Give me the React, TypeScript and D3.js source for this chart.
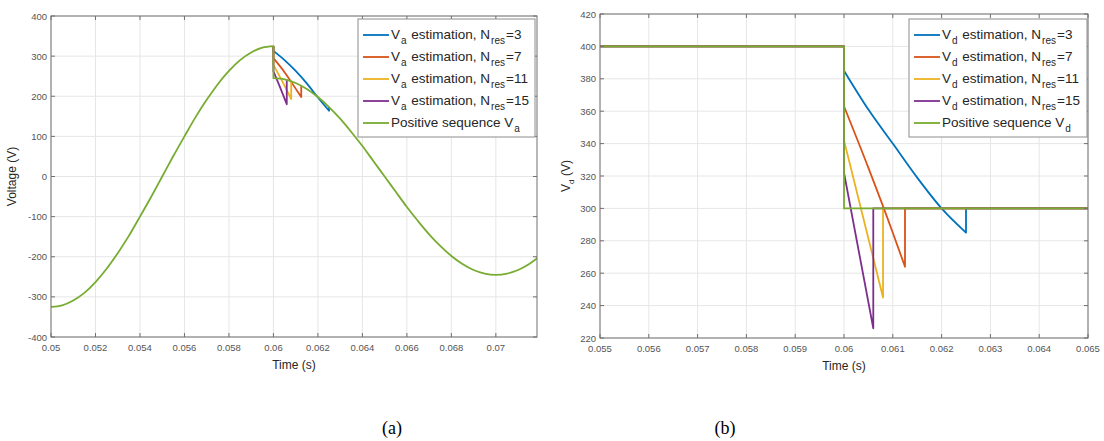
import React from "react";
import * as d3 from "d3";

// ---------- DATA ----------
const seriesColors = ["#0072BD", "#D95319", "#EDB120", "#7E2F8E", "#77AC30"];
const nResValues = ["3", "7", "11", "15"];

// (a) Positive sequence Va, before and after the sag at t = 0.06 s
const timePre = [0.05, 0.0505, 0.051, 0.0515, 0.052, 0.0525, 0.053, 0.0535, 0.054, 0.0545, 0.055, 0.0555, 0.056, 0.0565, 0.057, 0.0575, 0.058, 0.0585, 0.059, 0.0595, 0.06];
const vaPre = [-325, -321, -309, -290, -263, -230, -191, -148, -100, -51, 0, 51, 100, 148, 191, 230, 263, 290, 309, 321, 325];
const timePost = [0.06, 0.0605, 0.061, 0.0615, 0.062, 0.0625, 0.063, 0.0635, 0.064, 0.0645, 0.065, 0.0655, 0.066, 0.0665, 0.067, 0.0675, 0.068, 0.0685, 0.069, 0.0695, 0.07, 0.0705, 0.071, 0.0715, 0.072];
const vaPost = [245, 242, 233, 218, 198, 173, 144, 111, 76, 38, 0, -38, -76, -111, -144, -173, -198, -218, -233, -242, -245, -242, -233, -218, -198];

// (a) Va estimations
const estA3T = [0.06, 0.06, 0.0605, 0.061, 0.0615, 0.062, 0.0625, 0.0625];
const estA3V = [325, 313, 290, 263, 232, 197, 164, 173];
const estA7T = [0.06, 0.06, 0.0605, 0.061, 0.06125, 0.06125];
const estA7V = [325, 295, 260, 219, 198, 226];
const estA11T = [0.06, 0.06, 0.0604, 0.0608, 0.0608];
const estA11V = [325, 278, 237, 193, 237];
const estA15T = [0.06, 0.06, 0.0603, 0.0606, 0.0606];
const estA15V = [325, 262, 222, 180, 241];

// (b) Vd estimations
const estD3T = [0.055, 0.06, 0.06, 0.0605, 0.061, 0.0615, 0.062, 0.0625, 0.0625, 0.065];
const estD3V = [400, 400, 385, 361, 340, 319, 300, 285, 300, 300];
const estD7T = [0.055, 0.06, 0.06, 0.0605, 0.061, 0.06125, 0.06125, 0.065];
const estD7V = [400, 400, 363, 325, 285, 264, 300, 300];
const estD11T = [0.055, 0.06, 0.06, 0.0608, 0.0608, 0.065];
const estD11V = [400, 400, 342, 245, 300, 300];
const estD15T = [0.055, 0.06, 0.06, 0.0606, 0.0606, 0.065];
const estD15V = [400, 400, 322, 226, 300, 300];
const posDT = [0.055, 0.06, 0.06, 0.065];
const posDV = [400, 400, 300, 300];

// ticks
const xTicksA = [0.05, 0.052, 0.054, 0.056, 0.058, 0.06, 0.062, 0.064, 0.066, 0.068, 0.07];
const yTicksA = [-400, -300, -200, -100, 0, 100, 200, 300, 400];
const xTicksB = [0.055, 0.056, 0.057, 0.058, 0.059, 0.06, 0.061, 0.062, 0.063, 0.064, 0.065];
const yTicksB = [220, 240, 260, 280, 300, 320, 340, 360, 380, 400, 420];

const FONT = "'Liberation Sans', Arial, Helvetica, sans-serif";

type Pt = [number, number];
const zip = (t: number[], v: number[]): Pt[] => t.map((x, i) => [x, v[i]]);

// Smooth each run of strictly increasing x, join runs with straight (vertical) segments
function smoothPath(pts: Pt[], xs: any, ys: any): string {
  const gen = d3.line<Pt>().x((d) => xs(d[0])).y((d) => ys(d[1])).curve(d3.curveMonotoneX);
  const runs: Pt[][] = [];
  let cur: Pt[] = [];
  pts.forEach((p) => {
    if (cur.length && p[0] <= cur[cur.length - 1][0]) {
      runs.push(cur);
      cur = [];
    }
    cur.push(p);
  });
  if (cur.length) runs.push(cur);
  return runs
    .map((r, i) => {
      const d = r.length > 1 ? gen(r) || "" : `M${xs(r[0][0])},${ys(r[0][1])}`;
      return i === 0 ? d : d.replace(/^M/, "L");
    })
    .join("");
}

function Legend({ x, y, w, h, sym }: { x: number; y: number; w: number; h: number; sym: string }) {
  const rowH = 22;
  return (
    <g>
      <rect x={x} y={y} width={w} height={h} fill="#fff" stroke="#8c8c8c" strokeWidth={1} />
      {seriesColors.map((c, i) => {
        const cy = y + 16 + i * rowH;
        return (
          <g key={i}>
            <line x1={x + 5} x2={x + 31} y1={cy} y2={cy} stroke={c} strokeWidth={1.8} />
            {i < 4 ? (
              <text x={x + 33} y={cy + 4} fontSize={13.5} fontFamily={FONT} fill="#262626">
                <tspan>V</tspan>
                <tspan dy={5} dx={1} fontSize={10}>{sym}</tspan>
                <tspan dy={-5} dx={1}> estimation, N</tspan>
                <tspan dy={5} dx={1} fontSize={10}>res</tspan>
                <tspan dy={-5} dx={1}>={nResValues[i]}</tspan>
              </text>
            ) : (
              <text x={x + 33} y={cy + 4} fontSize={13.5} fontFamily={FONT} fill="#262626">
                <tspan>Positive sequence V</tspan>
                <tspan dy={5} dx={1} fontSize={10}>{sym}</tspan>
              </text>
            )}
          </g>
        );
      })}
    </g>
  );
}

function Grid({ x0, x1, y0, y1, xs, ys, xTicks, yTicks }: any) {
  return (
    <g>
      {xTicks.map((t: number, i: number) => (
        <line key={"gx" + i} x1={xs(t)} x2={xs(t)} y1={y0} y2={y1} stroke="#e6e6e6" strokeWidth={1} />
      ))}
      {yTicks.map((t: number, i: number) => (
        <line key={"gy" + i} x1={x0} x2={x1} y1={ys(t)} y2={ys(t)} stroke="#e6e6e6" strokeWidth={1} />
      ))}
    </g>
  );
}

function AxesFront({ x0, x1, y0, y1, xs, ys, xTicks, yTicks }: any) {
  const tl = 4;
  const fmt = (d: number) => String(+d.toFixed(3));
  return (
    <g>
      <rect x={x0} y={y0} width={x1 - x0} height={y1 - y0} fill="none" stroke="#707070" strokeWidth={1} />
      {xTicks.map((t: number, i: number) => (
        <g key={"tx" + i}>
          <line x1={xs(t)} x2={xs(t)} y1={y1} y2={y1 - tl} stroke="#707070" />
          <line x1={xs(t)} x2={xs(t)} y1={y0} y2={y0 + tl} stroke="#707070" />
          <text x={xs(t)} y={y1 + 14} textAnchor="middle" fontSize={9.5} fontFamily={FONT} fill="#555">
            {fmt(t)}
          </text>
        </g>
      ))}
      {yTicks.map((t: number, i: number) => (
        <g key={"ty" + i}>
          <line x1={x0} x2={x0 + tl} y1={ys(t)} y2={ys(t)} stroke="#707070" />
          <line x1={x1} x2={x1 - tl} y1={ys(t)} y2={ys(t)} stroke="#707070" />
          <text x={x0 - 4} y={ys(t) + 3.5} textAnchor="end" fontSize={9.5} fontFamily={FONT} fill="#555">
            {fmt(t)}
          </text>
        </g>
      ))}
      <text x={(x0 + x1) / 2} y={y1 + 32} textAnchor="middle" fontSize={12} fontFamily={FONT} fill="#262626">
        Time (s)
      </text>
    </g>
  );
}

export default function App() {
  // ---- panel (a)
  const A = { x0: 51, x1: 537, y0: 16, y1: 337 };
  const xsA = d3.scaleLinear().domain([0.05, 0.07185]).range([A.x0, A.x1]);
  const ysA = d3.scaleLinear().domain([-400, 400]).range([A.y1, A.y0]);
  const posAPath = smoothPath([...zip(timePre, vaPre), ...zip(timePost, vaPost)], xsA, ysA);
  const estA = [zip(estA3T, estA3V), zip(estA7T, estA7V), zip(estA11T, estA11V), zip(estA15T, estA15V)];

  // ---- panel (b)
  const B = { x0: 600, x1: 1088, y0: 14, y1: 338 };
  const xsB = d3.scaleLinear().domain([0.055, 0.065]).range([B.x0, B.x1]);
  const ysB = d3.scaleLinear().domain([220, 420]).range([B.y1, B.y0]);
  const estD = [zip(estD3T, estD3V), zip(estD7T, estD7V), zip(estD11T, estD11V), zip(estD15T, estD15V)];

  return (
    <div style={{ position: "absolute", left: 0, top: 0 }}>
      <svg width={1104} height={441} style={{ display: "block", background: "#fff" }}>
        <defs>
          <clipPath id="clipA">
            <rect x={A.x0} y={A.y0} width={A.x1 - A.x0} height={A.y1 - A.y0} />
          </clipPath>
          <clipPath id="clipB">
            <rect x={B.x0} y={B.y0} width={B.x1 - B.x0} height={B.y1 - B.y0} />
          </clipPath>
        </defs>

        {/* Panel (a) */}
        <Grid {...A} xs={xsA} ys={ysA} xTicks={xTicksA} yTicks={yTicksA} />
        <g clipPath="url(#clipA)" fill="none" strokeWidth={1.8} strokeLinejoin="round">
          {estA.map((s, i) => (
            <path key={i} d={smoothPath(s, xsA, ysA)} stroke={seriesColors[i]} />
          ))}
          <path d={posAPath} stroke={seriesColors[4]} />
        </g>
        <AxesFront {...A} xs={xsA} ys={ysA} xTicks={xTicksA} yTicks={yTicksA} />
        <text
          transform={`translate(16,${(A.y0 + A.y1) / 2}) rotate(-90)`}
          textAnchor="middle"
          fontSize={12}
          fontFamily={FONT}
          fill="#262626"
        >
          Voltage (V)
        </text>
        <Legend x={358} y={19} w={177} h={118} sym="a" />

        {/* Panel (b) */}
        <Grid {...B} xs={xsB} ys={ysB} xTicks={xTicksB} yTicks={yTicksB} />
        <g clipPath="url(#clipB)" fill="none" strokeWidth={1.8} strokeLinejoin="round">
          {estD.map((s, i) => (
            <path key={i} d={smoothPath(s, xsB, ysB)} stroke={seriesColors[i]} />
          ))}
          <path d={smoothPath(zip(posDT, posDV), xsB, ysB)} stroke={seriesColors[4]} />
        </g>
        <AxesFront {...B} xs={xsB} ys={ysB} xTicks={xTicksB} yTicks={yTicksB} />
        <text
          transform={`translate(570,${(B.y0 + B.y1) / 2}) rotate(-90)`}
          textAnchor="middle"
          fontSize={12}
          fontFamily={FONT}
          fill="#262626"
        >
          <tspan>V</tspan>
          <tspan dy={4} fontSize={8}>d</tspan>
          <tspan dy={-4}> (V)</tspan>
        </text>
        <Legend x={909} y={19} w={178} h={118} sym="d" />

        {/* captions */}
        <text x={392} y={434} textAnchor="middle" fontSize={18} fontFamily="'Liberation Serif', 'Times New Roman', serif" fill="#000">
          (a)
        </text>
        <text x={725} y={434} textAnchor="middle" fontSize={18} fontFamily="'Liberation Serif', 'Times New Roman', serif" fill="#000">
          (b)
        </text>
      </svg>
    </div>
  );
}
